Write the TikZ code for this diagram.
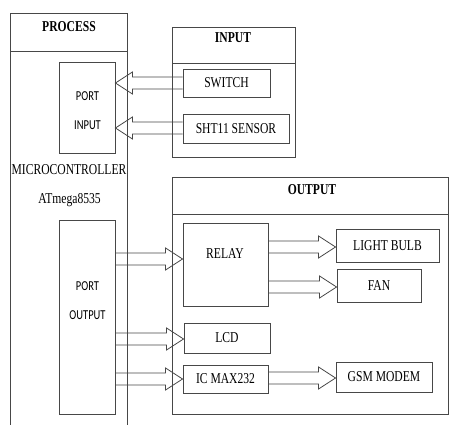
\documentclass[tikz,border=0pt]{standalone}
\usepackage{fontspec}
\setmainfont{Liberation Serif}
\newfontfamily\calfont{Carlito}
\usetikzlibrary{calc}
\newcommand{\vs}[1]{\scalebox{1}[1.3]{#1}}
\tikzset{
  box/.style={draw=black!72, line width=0.9pt, inner sep=0pt,
    font=\fontsize{11.6}{13}\selectfont},
  txt/.style={inner sep=0pt, font=\fontsize{11.6}{13}\selectfont},
  hdr/.style={inner sep=0pt, font=\fontsize{11.6}{13}\selectfont\bfseries},
  stxt/.style={inner sep=0pt, font=\calfont\fontsize{10.5}{12}\selectfont},
  blk/.style={draw=black!72, line width=0.8pt, line join=miter},
}
\newcommand{\boxat}[6]{%
  \node[box, minimum width={(#4-#2)*1pt}, minimum height={(#5-#3)*1pt}]
    (#1) at ({(#2+#4)/2},{(#3+#5)/2}) {\vs{#6}};}
\newcommand{\blockarrow}[3]{%
  \coordinate (ta) at (#1 |- #3);
  \coordinate (tp) at (#2 |- #3);
  \coordinate (hb) at ($(tp)!17pt!(ta)$);
  \draw[blk] ($(ta)!6pt!90:(tp)$) -- ($(hb)!6pt!90:(tp)$) -- ($(hb)!11pt!90:(tp)$)
    -- (tp) -- ($(hb)!11pt!-90:(tp)$) -- ($(hb)!6pt!-90:(tp)$) -- ($(ta)!6pt!-90:(tp)$);}
\begin{document}
\begin{tikzpicture}[x=1pt, y=-1pt]
\useasboundingbox (0,0) rectangle (450,425);
\clip (0,0) rectangle (450,425);
% PROCESS
\boxat{prochdr}{10}{13}{127}{51}{}
\boxat{proc}{10}{51}{127}{440}{}
\node[hdr] (proctitle) at (69,27) {\vs{PROCESS}};
\node[txt] (mcu) at (69,170) {\vs{MICROCONTROLLER}};
\node[txt] (atm) at (69.5,200) {\vs{ATmega8535}};
\boxat{portin}{59}{62}{115}{153}{}
\node[stxt] (pinA) at (87.5,96) {\vs{PORT}};
\node[stxt] (pinB) at (87.5,125) {\vs{INPUT}};
\boxat{portout}{59}{220}{115}{414}{}
\node[stxt] (poutA) at (87.5,286) {\vs{PORT}};
\node[stxt] (poutB) at (87.5,315) {\vs{OUTPUT}};
% INPUT
\boxat{inhdr}{172}{27}{295}{63}{}
\boxat{inbody}{172}{63}{295}{157}{}
\node[hdr] (intitle) at (233,38) {\vs{INPUT}};
\boxat{switch}{183}{69}{270}{97}{SWITCH}
\boxat{sht}{183}{114}{289}{143}{SHT11 SENSOR}
% OUTPUT
\boxat{outhdr}{172}{177}{448}{214}{}
\boxat{outbody}{172}{214}{448}{414}{}
\node[hdr] (outtitle) at (312,190) {\vs{OUTPUT}};
\boxat{relay}{183}{223}{268}{306}{}
\node[txt] (relaytxt) at (225,254) {\vs{RELAY}};
\boxat{lcd}{184}{323}{270}{353}{LCD}
\boxat{icmax}{183}{365}{268}{393}{IC MAX232}
\boxat{bulb}{336}{229}{439}{262}{LIGHT BULB}
\boxat{fan}{337}{269}{421}{302}{FAN}
\boxat{gsm}{336}{362}{432}{392}{GSM MODEM}
% arrow levels
\coordinate (y1) at (0,83);
\coordinate (y2) at (0,128);
\coordinate (y3) at (0,259);
\coordinate (y4) at (0,339);
\coordinate (y5) at (0,379);
\coordinate (y6) at (0,247);
\coordinate (y7) at (0,287);
\coordinate (y8) at (0,378);
\blockarrow{switch.west}{portin.east}{y1}
\blockarrow{sht.west}{portin.east}{y2}
\blockarrow{portout.east}{relay.west}{y3}
\blockarrow{portout.east}{lcd.west}{y4}
\blockarrow{portout.east}{icmax.west}{y5}
\blockarrow{relay.east}{bulb.west}{y6}
\blockarrow{relay.east}{fan.west}{y7}
\blockarrow{icmax.east}{gsm.west}{y8}
\end{tikzpicture}
\end{document}
